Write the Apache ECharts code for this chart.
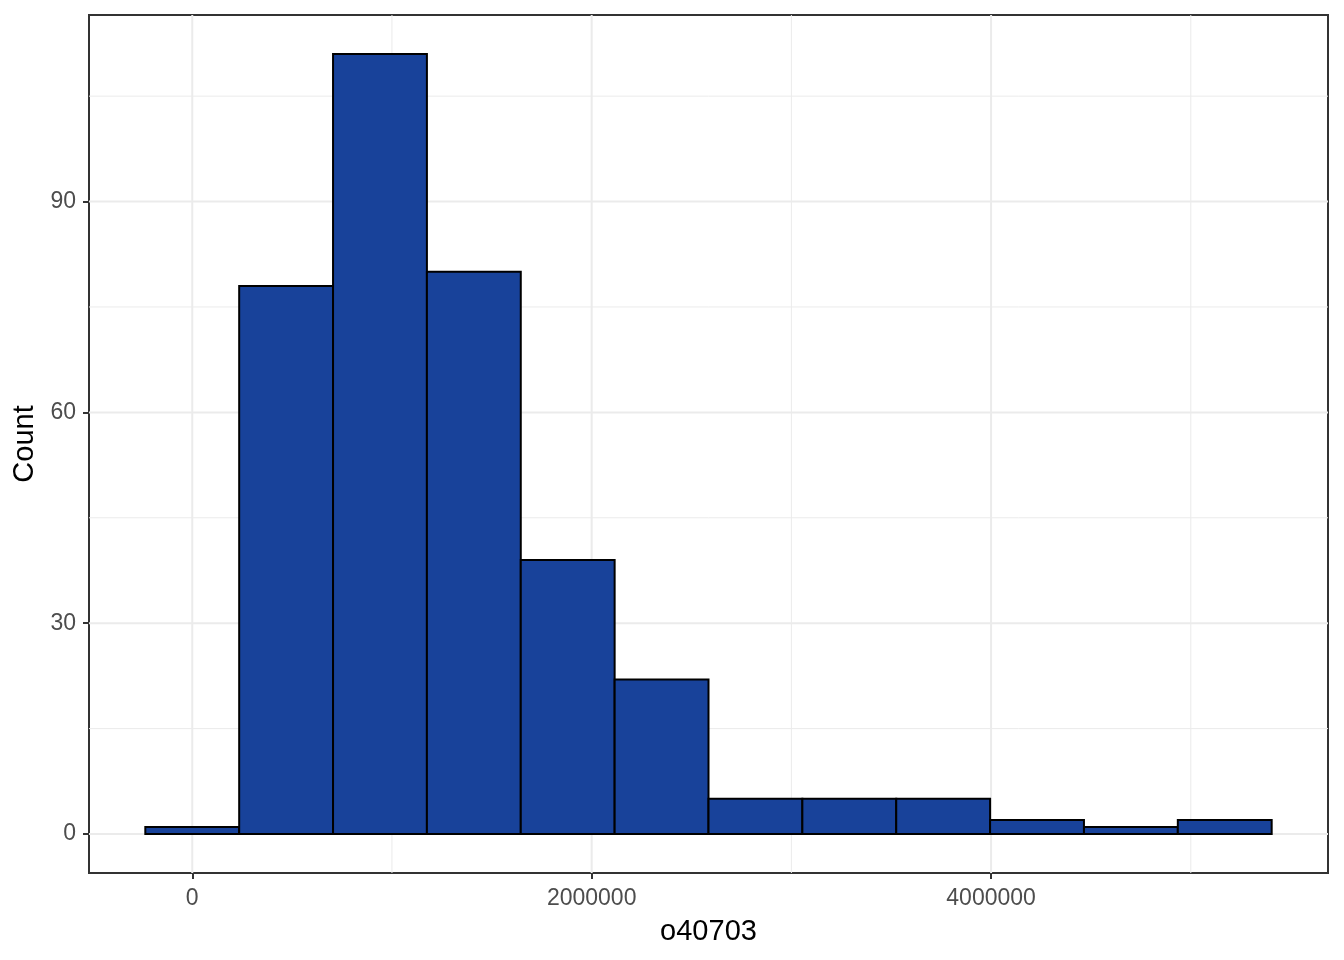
<!DOCTYPE html>
<html>
<head>
<meta charset="utf-8">
<script src="https://cdn.jsdelivr.net/npm/echarts@6/dist/echarts.min.js"></script>
<style>
html,body{margin:0;padding:0;background:#fff;}
#chart{width:1344px;height:960px;}
</style>
</head>
<body>
<div id="chart"></div>
<script>
// Histogram data
var binEdges = [-235000, 235000, 705000, 1175000, 1645000, 2115000, 2585000, 3055000, 3525000, 3995000, 4465000, 4935000, 5405000];
var counts = [1, 78, 111, 80, 39, 22, 5, 5, 5, 2, 1, 2];
var xTicks = [0, 2000000, 4000000];
var xMinorGrid = [1000000, 3000000, 5000000];
var yTicks = [0, 30, 60, 90];
var yMinorGrid = [15, 45, 75, 105];
var xTitle = 'o40703';
var yTitle = 'Count';

var xMin = -517000, xMax = 5687000;
var yMin = -5.55, yMax = 116.55;

var bars = counts.map(function (c, i) { return [binEdges[i], binEdges[i + 1], c]; });

var FONT = 'Arial, "Liberation Sans", sans-serif';

function gridSeries(values, dir, width) {
  return {
    type: 'custom',
    silent: true,
    z: 1,
    data: values,
    renderItem: function (params, api) {
      var cs = params.coordSys;
      var v = api.value(0);
      var shape;
      if (dir === 'x') {
        var x = api.coord([v, 0])[0];
        shape = { x1: x, y1: cs.y, x2: x, y2: cs.y + cs.height };
      } else {
        var y = api.coord([0, v])[1];
        shape = { x1: cs.x, y1: y, x2: cs.x + cs.width, y2: y };
      }
      return { type: 'line', shape: shape, style: { stroke: '#EBEBEB', lineWidth: width } };
    }
  };
}

var chart = echarts.init(document.getElementById('chart'), null, { renderer: 'canvas' });
chart.setOption({
  animation: false,
  backgroundColor: '#ffffff',
  grid: { left: 89, right: 16, top: 15, bottom: 87, show: true, borderColor: '#333333', borderWidth: 2, backgroundColor: '#ffffff' },
  xAxis: {
    type: 'value', min: xMin, max: xMax, position: 'bottom',
    name: xTitle, nameLocation: 'middle', nameGap: 44,
    nameTextStyle: { color: '#000000', fontSize: 29, fontFamily: FONT },
    axisLine: { show: true, onZero: false, lineStyle: { color: '#333333', width: 2 } },
    splitLine: { show: false },
    axisTick: { show: true, inside: false, customValues: xTicks, length: 6, lineStyle: { color: '#333333', width: 2 } },
    axisLabel: { customValues: xTicks, color: '#4D4D4D', fontSize: 23, fontFamily: FONT, margin: 14,
      formatter: function (v) { return String(v); } }
  },
  yAxis: {
    type: 'value', min: yMin, max: yMax, position: 'left',
    name: yTitle, nameLocation: 'middle', nameGap: 44,
    nameTextStyle: { color: '#000000', fontSize: 29, fontFamily: FONT },
    axisLine: { show: true, onZero: false, lineStyle: { color: '#333333', width: 2 } },
    splitLine: { show: false },
    axisTick: { show: true, inside: false, customValues: yTicks, length: 6, lineStyle: { color: '#333333', width: 2 } },
    axisLabel: { customValues: yTicks, color: '#4D4D4D', fontSize: 23, fontFamily: FONT, margin: 13 }
  },
  series: [
    gridSeries(xMinorGrid, 'x', 1),
    gridSeries(yMinorGrid, 'y', 1),
    gridSeries(xTicks, 'x', 2),
    gridSeries(yTicks, 'y', 2),
    {
      type: 'custom',
      z: 5,
      data: bars,
      encode: { x: [0, 1], y: 2 },
      renderItem: function (params, api) {
        var p0 = api.coord([api.value(0), 0]);
        var p1 = api.coord([api.value(1), api.value(2)]);
        return {
          type: 'rect',
          shape: { x: p0[0], y: p1[1], width: p1[0] - p0[0], height: p0[1] - p1[1] },
          style: { fill: '#18429A', stroke: '#000000', lineWidth: 2 }
        };
      }
    }
  ]
});
</script>
</body>
</html>
